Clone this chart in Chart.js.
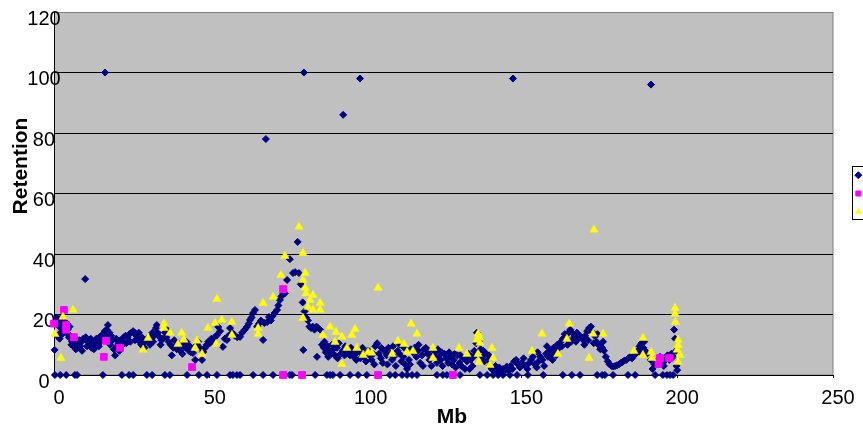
<!DOCTYPE html>
<html>
<head>
<meta charset="utf-8">
<title>Retention by Mb</title>
<script src="https://cdn.jsdelivr.net/npm/chart.js@4.4.1/dist/chart.umd.min.js"></script>
<style>
  html, body { margin: 0; padding: 0; background: #fff; }
  #clip { width: 863px; height: 431px; overflow: hidden; }
  #wrap { width: 919px; height: 431px; }
</style>
</head>
<body>
<div id="clip"><div id="wrap"><canvas id="chart"></canvas></div></div>
<script>
// ---- data: [Mb, retention] ----
const series1 = [
  [0.2,8.3],[0.5,17],[0.9,19],[1.3,18],[1.7,16],[2.1,14],[2.4,19],[2.8,17],[3.2,15],[3.6,17.5],
  [4,14],[4.4,15],[4.8,12.5],[5.2,13],[5.6,10],[6,11.5],[6.4,9.5],[6.8,10.5],[7.2,11],[7.6,9],
  [8,10],[8.4,9.5],[8.8,11],[9.4,12],[10,31.7],[10.2,12.5],[10.8,11],[11.4,10],[12,9],[12.5,10],
  [13,11],[13.6,12],[14.1,11],[14.6,12.5],[15.2,13],[15.7,13.5],[16.4,100],[16.3,14.5],[16.9,15],[17.3,16.5],
  [17.8,14],[18.3,13],[18.8,11.5],[19.2,8.5],[19.6,6.5],[20.2,9.5],[20.7,10.5],[21.3,11.5],[21.8,11],[22.4,12.5],
  [23,13],[23.6,12.5],[24.2,13.5],[24.8,14],[25.4,14.5],[25.9,14],[26.4,13],[27,12],[27.5,11],[28,10],
  [28.6,10.5],[29.2,11],[29.8,12],[30.4,11.5],[31,12.5],[31.6,14],[32.2,13],[32.7,15.5],[33.3,14],[33.9,12.5],
  [34.5,11.5],[35,12],[35.6,14],[36.2,15],[36.8,11],[37.4,10],[37.8,6.5],[38.3,9],[38.9,9.5],[39.4,8.5],
  [40,9],[40.5,8],[41,9.5],[41.6,10],[42.2,9],[42.8,9.5],[43.3,8],[43.9,7.5],[44.6,7.3],[45.3,5],
  [45.8,10],[46.3,11],[46.8,9],[47.5,5],[47.9,7.6],[48.5,9],[49,10],[49.5,11],[50,10.5],[50.5,12],
  [51,11],[51.6,12.5],[52.3,13.2],[52.7,15.9],[53.3,14.5],[54.2,9.3],[54.8,12],[55.5,11.6],[56,13],[56.5,15.5],
  [57.2,14],[58,13],[58.8,12.5],[59.7,12.6],[60.4,14],[61.2,15],[61.9,15.9],[62.5,17],[62.9,18.2],[63.4,19],
  [63.9,20.5],[64.5,21.5],[65.2,16],[65.8,17],[66.4,18],[67.1,11.6],[67.5,17.2],[68,78],[68.4,17.5],[69,19.2],
  [69.6,18],[70.2,19.5],[70.8,20.5],[71.6,21.5],[72,23],[72.5,24.8],[73,26],[73.6,27],[74.1,27],[74.8,31.4],
  [75.7,38.3],[76.7,33.7],[77.4,34],[78.2,44],[78.6,33.7],[79.2,30],[79.8,24],[80.2,100],[80.4,21],[80.9,19],
  [81.5,18],[82,16],[82.5,15.5],[83,16],[83.6,15],[84.2,16],[84.8,15.5],[85.4,15],[80,8.3],[84.4,6],
  [86,10],[86.6,9],[87.2,7.5],[87.8,9.5],[88.4,8],[89,7],[89.6,8.5],[90.2,6.5],[90.8,9],[91.4,10.5],
  [92,7],[92.8,86],[92.6,8],[93.2,6.5],[93.8,7],[94.4,8],[95,6.5],[95.6,7.5],[96.2,6],[96.8,7],
  [97.4,8],[98.2,98],[98.3,5.5],[98.9,7],[99.5,6],[100.1,4.5],[100.7,8],[101.3,6.5],[101.9,5],[102.5,7],
  [103.1,9.5],[103.7,10.5],[104.3,7],[104.9,5.5],[105.5,4],[106.1,8],[106.7,6.5],[107.3,9],[107.9,7],[108.5,5],
  [109.1,6],[109.7,3],[110.3,8],[110.9,7],[111.5,4.5],[112.1,6],[112.7,3.5],[113.3,2],[113.9,5],[114.5,8.5],
  [115.1,7.5],[115.7,9],[116.3,6],[116.9,8],[117.5,4],[118.1,6.5],[118.7,8.5],[119.3,9],[119.9,7],[120.5,5],
  [121.1,3],[121.7,6.5],[122.3,7.5],[122.9,4],[123.5,6],[124.1,5],[124.7,3],[125.3,7],[125.9,5.5],[126.5,4],
  [127.1,6],[127.7,3.5],[128.3,5],[128.9,2.5],[129.5,6.5],[130.1,4],[130.7,3],[131.3,5.5],[131.9,2],[132.5,4.5],
  [133.1,7],[133.7,5],[134.3,3],[134.9,8],[135.5,10.5],[135.7,14],[136.3,11],[136.9,8.5],[137.5,6],[138.1,4.5],
  [138.7,7],[139.3,5],[139.9,3],[140.5,2],[141.1,1.5],[141.7,3],[142.3,1],[142.9,2.5],[143.5,0.8],[144.1,2],
  [144.7,1.3],[145.3,2.8],[145.9,1.5],[146.5,3],[147.3,98],[147.1,2],[147.7,4.5],[148.3,5],[148.9,3.5],[149.5,2.5],
  [150.1,4],[150.7,5.5],[151.3,3],[151.9,2],[152.5,4],[153.1,5],[153.7,6],[154.3,3.5],[154.9,2.5],[155.5,4.5],
  [156.1,6],[156.7,5],[157.3,3],[157.9,7],[158.5,6],[159.1,8],[159.7,7],[160.3,9],[160.9,8],[161.5,10],
  [162.1,9],[162.7,11],[163.3,12],[163.9,13.5],[164.5,12],[165.1,14],[165.7,15],[166.3,14],[166.9,12.5],[167.5,11],
  [168.1,12],[168.7,13],[169.3,12.5],[169.9,11.5],[170.5,13],[171.1,14.5],[171.7,15.5],[172.3,16],[172.9,14],[173.5,13],
  [174.1,11],[174.7,10],[175.3,8.5],[175.9,9],[176.5,8],[177.1,6],[177.7,4.5],[178.3,3.5],[178.9,3],[179.5,2.8],
  [180.1,3],[180.7,3.2],[181.3,3.5],[181.9,4],[182.5,4.3],[183.1,4.8],[183.7,5],[184.3,5.5],[184.9,6],[185.5,5.5],
  [186.1,6.5],[186.7,7],[187.3,8],[187.9,9.5],[188.5,10.5],[189.1,9],[189.7,8],[190.3,7],[191.6,96],[191.5,5],
  [192.1,2],[192.7,3.5],[193.3,4],[193.9,5],[194.5,6],[195.1,4],[195.7,3],[196.3,5],[196.9,6.5],[197.5,5],
  [198.1,7],[198.7,6],[199,15],[199.3,12],[199.6,8],[200,1.6],[199.8,3],
  // scatter around the main band
  [1,13],[1.8,12],[2.6,13.5],[4.2,17],[5,16],[5.8,11],[6.6,12.5],[7,8.5],[8.2,11.5],[9,8],
  [10.6,9.5],[11.8,12],[12.8,8.5],[13.4,10],[14.4,9.5],[15,11],[16.1,12],[17,13],[18,10],[20,12],
  [21,8],[22,10],[23.2,10.5],[24.5,11],[26,11.5],[27.2,14],[28.2,12.5],[29,9],[30.8,10],[31.8,11],
  [33,16.5],[34.2,10],[36,12.5],[38.6,11.5],[39.8,10.5],[41.2,7],[42.5,11],[43.6,9.5],
  [86.8,11],[88,6],[89.2,10],[91,5.5],[93.5,9.5],[95.3,9],[97,5],[99,9],[101,8],[102.8,3.5],
  [105,9],[107,3.5],[108.8,9.5],[111,10],[112.4,9],[114.2,3.5],[117,10],[118.4,3],[120.2,8],[123.2,8.5],
  [124.4,7.5],[126.8,7.5],[128.6,7],[130.4,6.5],[132.2,6],[133.4,2],[134.6,6],[137.8,8],[139.6,6.5],
  [155.2,7.5],[158.2,9.5],[160,5],[161.2,6.5],[163,9.5],[164.8,10],[166,11],[167.8,14],[170.2,10],[171.4,11.5],
  [173.2,10.5],[174.4,13.5],[176.2,11],[188.2,7.5],[189.4,11],
  // points sitting on the axis
  [0.3,0],[2,0],[3.9,0],[6.7,0],[7.4,0],[15.7,0],[21.8,0],[24.1,0],[25.4,0],[29.8,0],
  [31.5,0],[35.6,0],[37.2,0],[42.7,0],[46.5,0],[49.1,0],[52.3,0],[56.5,0],[57.4,0],[58.7,0],
  [59.7,0],[63.9,0],[67.1,0],[70.3,0],[73.5,0],[75.7,0],[76.4,0],[83.8,0],[87.6,0],[88.6,0],
  [89.5,0],[91.8,0],[95,0],[97.6,0],[100.4,0],[107.8,0],[109.5,0],[111.7,0],[113.3,0],[114.9,0],
  [116.5,0],[122.9,0],[124.8,0],[126.1,0],[130.3,0],[136.7,0],[139,0],[140.9,0],[142.5,0],[144.1,0],
  [146.3,0],[148.6,0],[152.1,0],[157,0],[163.3,0],[166.2,0],[168.8,0],[174.3,0],[175.9,0],[176.8,0],
  [179.4,0],[184.2,0],[186.5,0],[192.9,0],[195.4,0],[196.7,0],[197.7,0],[198.7,0]
];

const series2 = [
  [0,17],[3.2,21.5],[3.9,16.5],[3.9,15],[6.4,12.5],[16,6],[16.7,11.3],[21.2,9],[44.3,2.6],
  [73.5,28.4],[73.5,0],[79.6,0],[104,0],[128,0],[194,3.6],[194.5,5.6],[197.4,5.6]
];

const series3 = [
  [0.3,13.5],[2.2,5.6],[2.9,19.2],[6.1,21.5],[28.6,8.3],[30.2,12.2],[35.3,16.9],[35.3,15.5],[37.2,13.9],[39.8,10.2],
  [41,13.9],[41.7,11.6],[45.3,8.9],[45.9,11.3],[47.5,6.9],[49.4,15.5],[51.7,17.2],[52,10.2],[52.3,25.1],[53.9,18.2],
  [57.1,17.5],[57.1,13.2],[65.5,15.5],[65.5,13.5],[67.1,23.8],[70.3,25.8],[72.8,33],[74.1,39.3],[78.6,49],[79.9,40.3],
  [80.6,33.7],[79.9,31.4],[80.6,28.8],[80.9,27],[82.2,24.8],[83.1,26.4],[81.5,22.5],[83.1,21.5],[85.4,23.8],[85.4,21.5],
  [79.9,18.8],[88.6,15.9],[86.3,13.2],[90.5,14.2],[92.4,12.6],[90.2,10.9],[95.6,13.2],[96.6,15.2],[94,8.9],[97.2,8.9],
  [99.2,6.6],[100.8,7.6],[102,7.3],[92.4,3.6],[104,28.8],[108.5,6.9],[110.4,11.2],[112.3,10.2],[113.3,7.6],[114.6,16.9],
  [115.2,7.9],[116.5,13.6],[121.6,8.9],[121.6,5.6],[130,8.9],[132.5,6.9],[135.7,11.6],[136.1,13.6],[136.4,12.5],[136.7,10.6],
  [136.1,6.9],[136.4,4.3],[140.6,8.9],[140.9,5.6],[139.9,3.3],[153.4,7.9],[156.6,13.6],[161.7,6.9],[164.6,11.9],[165.3,16.9],
  [171.7,5.6],[173,13.6],[173.3,48],[176.2,13.6],[186.1,7.9],[189,12.2],[189,6.6],[191.6,7.6],[191.9,5.6],[199.3,22.1],
  [199.3,20.2],[199.4,17.5],[200.3,11.6],[200.3,9.9],[200,8.3],[200.9,6.6],[200.3,4.3]
];

const seriesNames = ['Series1', 'Series2', 'Series3'];
const xTicks = {min: 0, max: 250, step: 50};
const yTicks = {min: 0, max: 120, step: 20};

const toPoints = rows => rows.map(([x, y]) => ({x, y}));

// grey plot panel, legend frame and axis titles
const chartFrame = {
  id: 'chartFrame',
  beforeDraw(chart) {
    const {ctx, chartArea: a} = chart;
    ctx.save();
    ctx.fillStyle = '#c0c0c0';
    ctx.fillRect(a.left, a.top, a.width, a.height);
    ctx.strokeStyle = '#808080';
    ctx.lineWidth = 1;
    ctx.strokeRect(a.left + 0.5, a.top + 0.5, a.width - 0.5, a.height - 0.5);
    ctx.restore();
  },
  afterDraw(chart) {
    const {ctx, chartArea: a} = chart;
    ctx.save();
    const hb = chart.legend.legendHitBoxes;
    if (hb && hb.length) {
      const last = hb[hb.length - 1];
      const x0 = Math.round(hb[0].left - 2) + 0.5;
      const y0 = Math.round(hb[0].top - 3) + 0.5;
      const y1 = Math.round(last.top + last.height + 1) + 0.5;
      ctx.strokeStyle = '#000';
      ctx.lineWidth = 1;
      ctx.strokeRect(x0, y0, 90, y1 - y0);
    }
    ctx.fillStyle = '#000';
    ctx.font = 'bold 21px "Liberation Sans", Arial, sans-serif';
    ctx.textAlign = 'center';
    ctx.textBaseline = 'middle';
    ctx.fillText('Mb', a.left + 398, 417);
    ctx.translate(21.5, a.top + 154);
    ctx.rotate(-Math.PI / 2);
    ctx.fillText('Retention', 0, 0);
    ctx.restore();
  }
};

Chart.defaults.font.family = '"Liberation Sans", Arial, sans-serif';
Chart.defaults.color = '#000';

new Chart(document.getElementById('chart'), {
  type: 'scatter',
  data: {
    datasets: [
      {label: seriesNames[0], data: toPoints(series1), order: 3, clip: false,
       pointStyle: 'rectRot', pointRadius: 3.5, borderWidth: 1,
       backgroundColor: '#000080', borderColor: '#000080'},
      {label: seriesNames[1], data: toPoints(series2), order: 2, clip: false,
       pointStyle: 'rect', pointRadius: 4.8, borderWidth: 1,
       backgroundColor: '#ff00ff', borderColor: '#ff00ff'},
      {label: seriesNames[2], data: toPoints(series3), order: 1, clip: false,
       pointStyle: 'triangle', pointRadius: 4.8, borderWidth: 0.5,
       backgroundColor: '#ffff00', borderColor: '#ffff00'},
    ],
  },
  options: {
    responsive: true,
    maintainAspectRatio: false,
    animation: false,
    events: [],
    layout: {padding: {top: 12, right: 0, bottom: 0, left: 0}},
    plugins: {
      tooltip: {enabled: false},
      legend: {
        position: 'right',
        fullSize: false,
        labels: {
          usePointStyle: true,
          boxWidth: 8,
          boxHeight: 5,
          padding: 6.3,
          font: {size: 12},
          color: '#000',
          sort: (a, b) => a.datasetIndex - b.datasetIndex,
        },
      },
    },
    scales: {
      x: {
        type: 'linear',
        min: xTicks.min, max: xTicks.max,
        afterFit: s => { s.height = 56; },
        ticks: {stepSize: xTicks.step, font: {size: 20}, padding: 8.5, labelOffset: 5, maxRotation: 0},
        grid: {drawOnChartArea: false, tickLength: 3, color: '#000'},
        border: {color: '#000', width: 1},
      },
      y: {
        type: 'linear',
        min: yTicks.min, max: yTicks.max,
        afterFit: s => { s.width = 54; },
        // mirrored so the labels are not clipped where they overlap the plot edge
        ticks: {stepSize: yTicks.step, font: {size: 20}, mirror: true, padding: -26.7, labelOffset: 7, crossAlign: 'center'},
        grid: {drawTicks: false, color: c => (c.tick && c.tick.value === yTicks.max ? '#808080' : '#000')},
        border: {color: '#000', width: 1},
      },
      gap: {
        type: 'linear',
        position: 'right',
        afterFit: s => { s.width = 15; },
        ticks: {display: false},
        grid: {display: false},
        border: {display: false},
      },
    },
  },
  plugins: [chartFrame],
});
</script>
</body>
</html>
